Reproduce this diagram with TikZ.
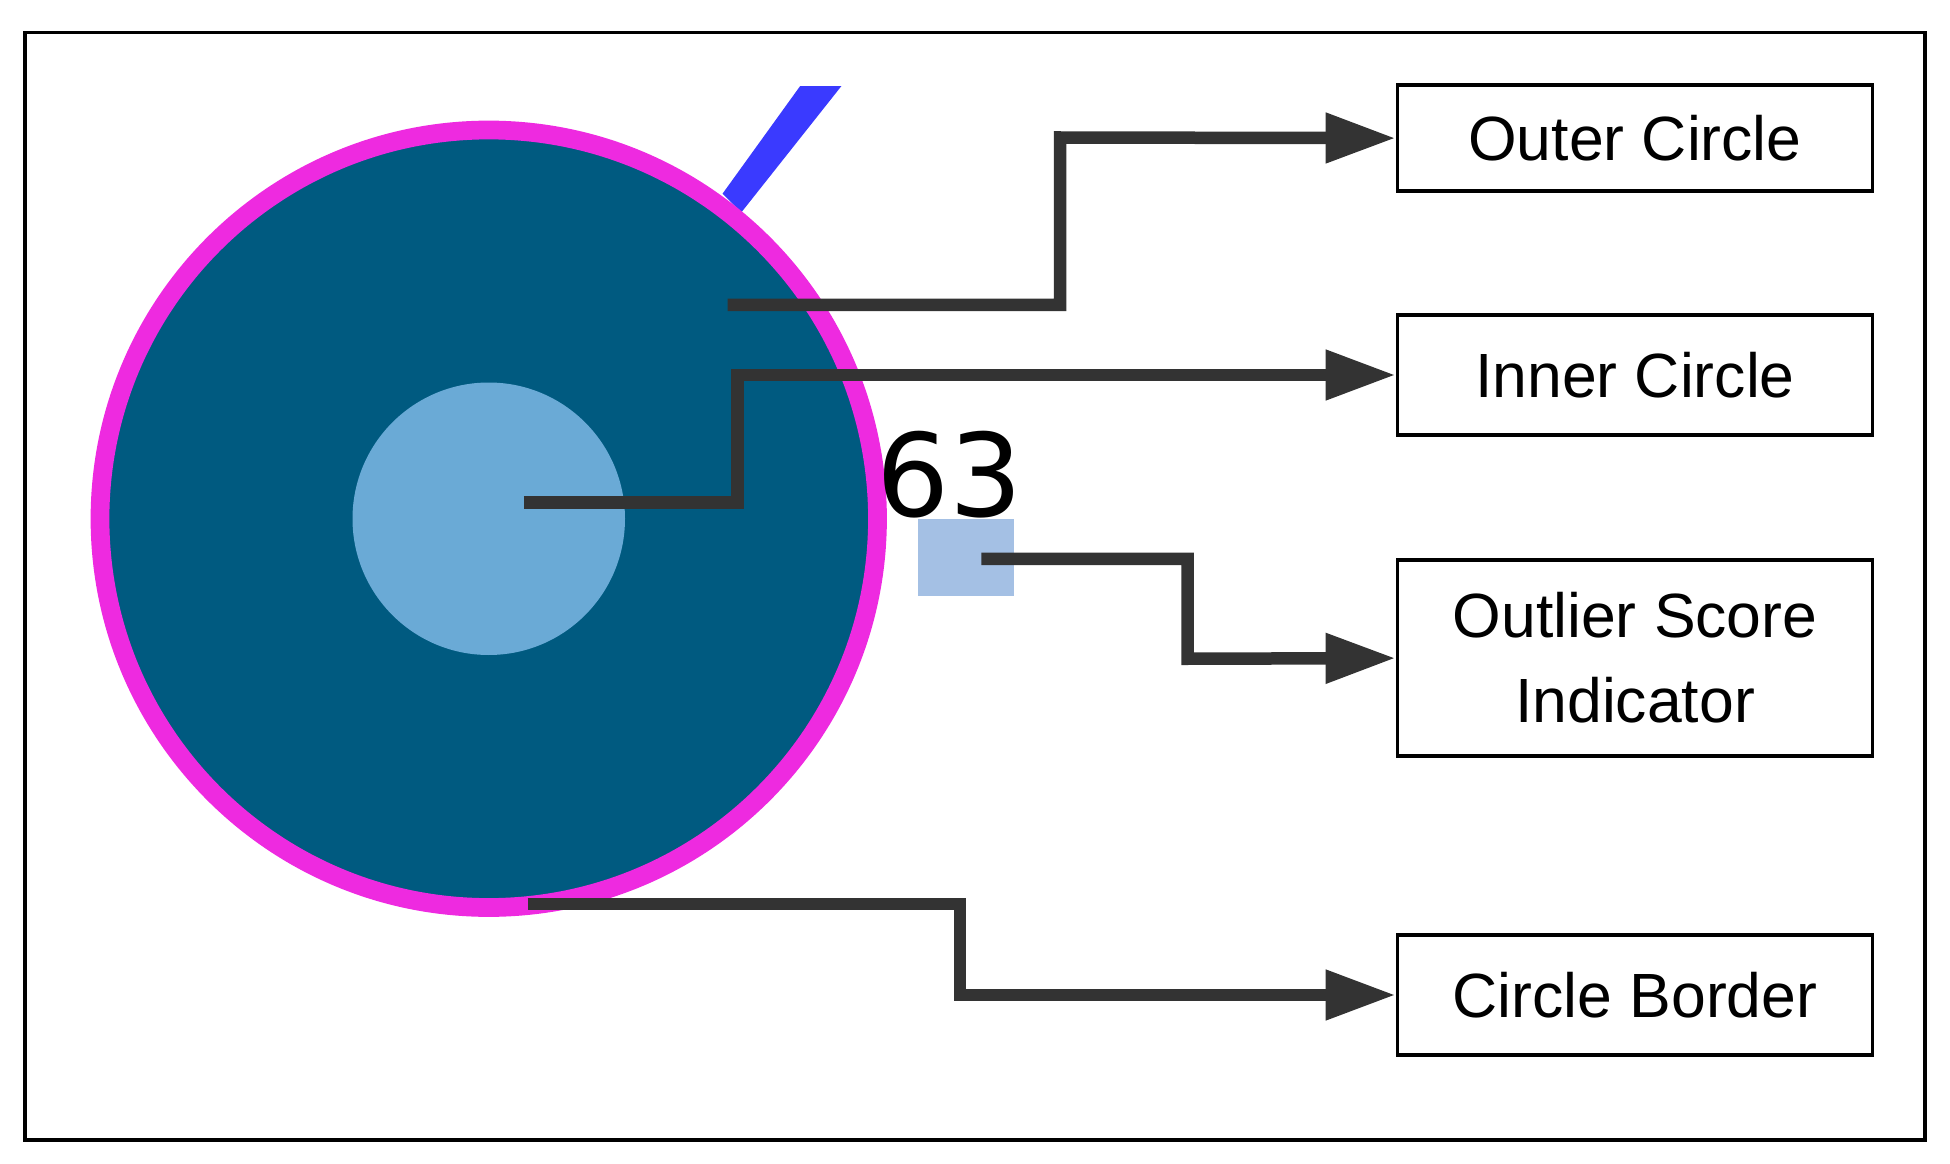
\documentclass[tikz,border=0pt]{standalone}
\usepackage{fontspec}
\setmainfont{Liberation Sans}
\usetikzlibrary{arrows.meta}
\definecolor{mag}{HTML}{EE2AE0}
\definecolor{dblue}{HTML}{005A80}
\definecolor{lblue}{HTML}{6AAAD6}
\definecolor{sq}{HTML}{A4C0E4}
\definecolor{bl}{HTML}{3A3AFF}
\definecolor{conn}{HTML}{333333}
\begin{document}
\begin{tikzpicture}[x=0.5pt,y=-0.5pt,
  lbl/.style={draw=black,line width=1.5pt,minimum width=190pt,font=\fontsize{25}{30}\selectfont,align=center,inner sep=0pt},
  conn/.style={draw=conn,line width=5pt,-{Triangle[length=28pt,width=19pt]}}]
\useasboundingbox (0,0) rectangle (1560,931);
\node[draw=black,line width=1.5pt,minimum width=760pt,minimum height=443pt,inner sep=0pt] (frame) at (780,469) {};
\fill[bl] (578,155) -- (640,69) -- (673,69) -- (593,170) -- cycle;
\node[circle,draw=mag,line width=7.5pt,fill=dblue,minimum size=311pt,inner sep=0pt] (outer) at (391,415) {};
\node[circle,fill=lblue,minimum size=109pt,inner sep=0pt] (inner) at (391,415) {};
\node[fill=sq,minimum width=38.5pt,minimum height=31pt,inner sep=0pt] (sq) at (772.5,446) {};
\node[font=\fontsize{46}{50}\selectfont\sffamily] (num) at (760,380) {\fontspec{DejaVu Sans}63};
\node[lbl,minimum height=42.5pt] (b1) at (1308,110.5) {Outer Circle};
\node[lbl,minimum height=48pt] (b2) at (1308,300) {Inner Circle};
\node[lbl,minimum height=78.5pt] (b3) at (1308,526.5) {Outlier Score\\[4pt]Indicator};
\node[lbl,minimum height=48pt] (b4) at (1308,796) {Circle Border};
\coordinate (s1) at (582,244);
\coordinate (s2) at (419,402);
\coordinate (s3) at (785,447);
\coordinate (s4) at (422,723);
\draw[conn] (s1) -- (848,244) -- (848,110) -- (b1.west);
\draw[conn] (s2) -- (590,402) -- (590,300) -- (b2.west);
\draw[conn] (s3) -- (950,447) -- (950,527) -- (b3.west);
\draw[conn] (s4) -- (768,723) -- (768,796) -- (b4.west);
\end{tikzpicture}
\end{document}
